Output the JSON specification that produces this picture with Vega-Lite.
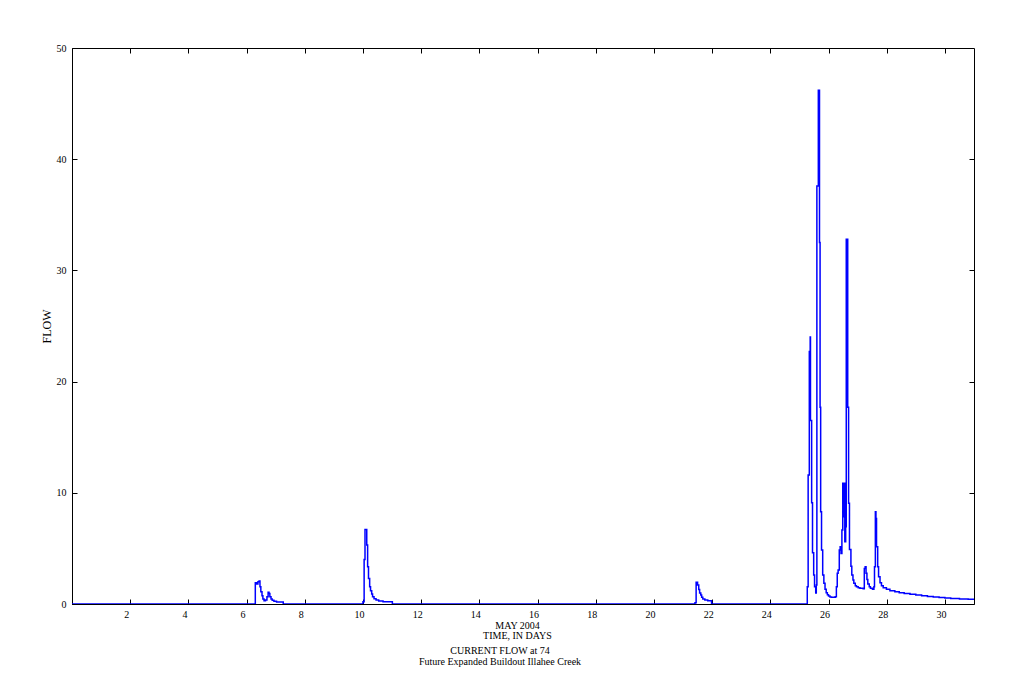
{
  "$schema": "https://vega.github.io/schema/vega-lite/v6.json",
  "width": 902,
  "height": 556,
  "autosize": "none",
  "padding": {"left": 72, "top": 48, "right": 48, "bottom": 96},
  "background": "white",
  "config": {
    "view": {"stroke": "black", "strokeWidth": 1},
    "font": "Liberation Serif",
    "axis": {"grid": false, "domainColor": "black", "tickColor": "black", "labelColor": "black", "titleColor": "black", "labelFont": "Liberation Serif", "titleFont": "Liberation Serif", "labelFontSize": 10, "titleFontSize": 10, "titleFontWeight": "normal"}
  },
  "title": {"text": ["CURRENT FLOW at 74", "Future Expanded Buildout Illahee Creek"], "orient": "bottom", "anchor": "middle", "fontSize": 10, "fontWeight": "normal", "font": "Liberation Serif", "color": "black", "lineHeight": 11, "offset": 6, "dx": -23},
  "data": {"values": [
    {"t": 0, "flow": 0},
    {"t": 6.30, "flow": 1.9},
    {"t": 6.35, "flow": 1.8},
    {"t": 6.39, "flow": 2.0},
    {"t": 6.43, "flow": 2.07},
    {"t": 6.46, "flow": 1.56},
    {"t": 6.49, "flow": 1.1},
    {"t": 6.53, "flow": 0.75},
    {"t": 6.56, "flow": 0.45},
    {"t": 6.60, "flow": 0.3},
    {"t": 6.65, "flow": 0.35},
    {"t": 6.70, "flow": 0.66},
    {"t": 6.74, "flow": 1.05},
    {"t": 6.77, "flow": 0.95},
    {"t": 6.80, "flow": 0.66},
    {"t": 6.84, "flow": 0.45},
    {"t": 6.88, "flow": 0.33},
    {"t": 6.94, "flow": 0.24},
    {"t": 7.03, "flow": 0.18},
    {"t": 7.26, "flow": 0},
    {"t": 10.00, "flow": 0.2},
    {"t": 10.04, "flow": 4.0},
    {"t": 10.07, "flow": 6.7},
    {"t": 10.13, "flow": 5.3},
    {"t": 10.16, "flow": 3.35},
    {"t": 10.19, "flow": 2.3},
    {"t": 10.23, "flow": 1.55},
    {"t": 10.26, "flow": 1.2},
    {"t": 10.30, "flow": 0.9},
    {"t": 10.33, "flow": 0.65},
    {"t": 10.38, "flow": 0.48},
    {"t": 10.45, "flow": 0.36},
    {"t": 10.54, "flow": 0.27},
    {"t": 10.69, "flow": 0.2},
    {"t": 11.01, "flow": 0},
    {"t": 21.41, "flow": 0.12},
    {"t": 21.45, "flow": 1.95},
    {"t": 21.50, "flow": 1.7},
    {"t": 21.54, "flow": 1.3},
    {"t": 21.57, "flow": 1.0},
    {"t": 21.61, "flow": 0.8},
    {"t": 21.64, "flow": 0.6},
    {"t": 21.68, "flow": 0.45},
    {"t": 21.75, "flow": 0.35},
    {"t": 21.85, "flow": 0.3},
    {"t": 21.98, "flow": 0},
    {"t": 25.27, "flow": 1.56},
    {"t": 25.30, "flow": 11.6},
    {"t": 25.34, "flow": 22.7},
    {"t": 25.37, "flow": 24.0},
    {"t": 25.38, "flow": 16.5},
    {"t": 25.42, "flow": 9.1},
    {"t": 25.45, "flow": 4.6},
    {"t": 25.49, "flow": 2.6},
    {"t": 25.52, "flow": 1.56},
    {"t": 25.56, "flow": 1.0},
    {"t": 25.58, "flow": 1.7},
    {"t": 25.60, "flow": 37.6},
    {"t": 25.65, "flow": 46.2},
    {"t": 25.69, "flow": 32.5},
    {"t": 25.71, "flow": 17.7},
    {"t": 25.73, "flow": 8.3},
    {"t": 25.76, "flow": 4.85},
    {"t": 25.80, "flow": 2.6},
    {"t": 25.84, "flow": 1.86},
    {"t": 25.88, "flow": 1.32},
    {"t": 25.92, "flow": 1.02},
    {"t": 25.96, "flow": 0.84},
    {"t": 26.00, "flow": 0.72},
    {"t": 26.05, "flow": 0.63},
    {"t": 26.10, "flow": 0.6},
    {"t": 26.23, "flow": 0.66},
    {"t": 26.27, "flow": 1.56},
    {"t": 26.30, "flow": 2.76},
    {"t": 26.33, "flow": 3.06},
    {"t": 26.37, "flow": 4.85},
    {"t": 26.40, "flow": 5.15},
    {"t": 26.43, "flow": 4.55},
    {"t": 26.46, "flow": 6.65},
    {"t": 26.49, "flow": 10.85},
    {"t": 26.52, "flow": 7.85},
    {"t": 26.54, "flow": 10.85},
    {"t": 26.56, "flow": 5.6},
    {"t": 26.59, "flow": 6.95},
    {"t": 26.61, "flow": 32.8},
    {"t": 26.66, "flow": 17.7},
    {"t": 26.69, "flow": 9.05},
    {"t": 26.72, "flow": 4.9},
    {"t": 26.77, "flow": 3.4},
    {"t": 26.80, "flow": 2.6},
    {"t": 26.84, "flow": 2.16},
    {"t": 26.87, "flow": 1.86},
    {"t": 26.92, "flow": 1.65},
    {"t": 26.96, "flow": 1.56},
    {"t": 27.02, "flow": 1.47},
    {"t": 27.08, "flow": 1.41},
    {"t": 27.19, "flow": 1.38},
    {"t": 27.23, "flow": 3.2},
    {"t": 27.26, "flow": 3.35},
    {"t": 27.29, "flow": 2.76},
    {"t": 27.32, "flow": 2.2},
    {"t": 27.35, "flow": 1.8},
    {"t": 27.40, "flow": 1.56},
    {"t": 27.44, "flow": 1.41},
    {"t": 27.51, "flow": 1.32},
    {"t": 27.56, "flow": 1.56},
    {"t": 27.58, "flow": 3.35},
    {"t": 27.61, "flow": 8.3},
    {"t": 27.63, "flow": 7.7},
    {"t": 27.65, "flow": 5.15},
    {"t": 27.69, "flow": 3.35},
    {"t": 27.72, "flow": 2.46},
    {"t": 27.77, "flow": 1.92},
    {"t": 27.82, "flow": 1.65},
    {"t": 27.88, "flow": 1.47},
    {"t": 27.99, "flow": 1.32},
    {"t": 28.11, "flow": 1.2},
    {"t": 28.28, "flow": 1.1},
    {"t": 28.43, "flow": 1.02},
    {"t": 28.6, "flow": 0.95},
    {"t": 28.8, "flow": 0.88},
    {"t": 29.0, "flow": 0.8},
    {"t": 29.2, "flow": 0.74},
    {"t": 29.4, "flow": 0.68},
    {"t": 29.6, "flow": 0.62},
    {"t": 29.8, "flow": 0.58},
    {"t": 30.0, "flow": 0.54},
    {"t": 30.2, "flow": 0.5},
    {"t": 30.5, "flow": 0.46},
    {"t": 30.8, "flow": 0.42},
    {"t": 31.0, "flow": 0.4}
  ]},
  "layer": [
    {
      "mark": {"type": "line", "interpolate": "step-after", "color": "#0000ff", "strokeWidth": 1.5, "clip": true},
      "encoding": {
        "x": {"field": "t", "type": "quantitative", "scale": {"domain": [0, 31], "nice": false, "zero": false},
          "axis": {"orient": "bottom", "values": [2,4,6,8,10,12,14,16,18,20,22,24,26,28,30], "tickSize": -5, "labelPadding": 10, "labelOffset": -4, "title": ["MAY 2004", "TIME, IN DAYS"], "titlePadding": 1, "titleLineHeight": 10, "titleX": 445, "domain": true, "labelFlush": false}},
        "y": {"field": "flow", "type": "quantitative", "scale": {"domain": [0, 50], "nice": false, "zero": true},
          "axis": {"orient": "left", "values": [0,10,20,30,40,50], "tickSize": -5, "labelPadding": 11, "title": "FLOW", "titleFontSize": 12, "titlePadding": 3, "domain": true, "labelFlush": false}}
      }
    },
    {
      "mark": {"type": "line", "opacity": 0},
      "encoding": {
        "x": {"field": "t", "type": "quantitative", "axis": {"orient": "top", "values": [2,4,6,8,10,12,14,16,18,20,22,24,26,28,30], "tickSize": -5, "labels": false, "title": null, "domain": false}},
        "y": {"field": "flow", "type": "quantitative", "axis": {"orient": "right", "values": [10,20,30,40], "tickSize": -5, "labels": false, "title": null, "domain": false}}
      }
    }
  ],
  "resolve": {"axis": {"x": "independent", "y": "independent"}}
}
